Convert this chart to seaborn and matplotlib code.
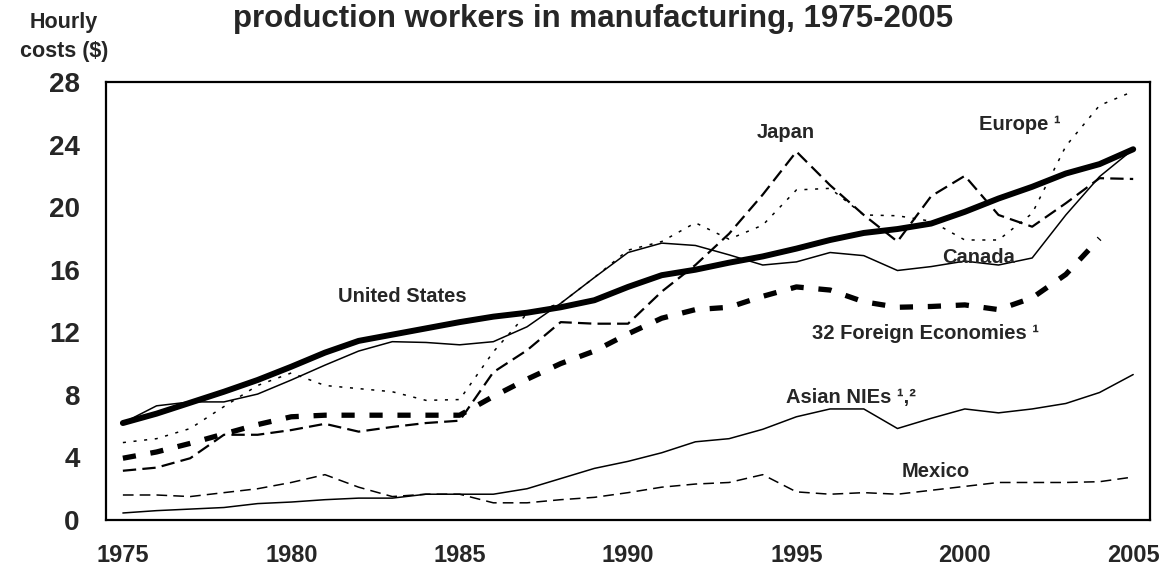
import numpy as np
import seaborn as sns
import matplotlib.pyplot as plt

years = list(range(1975, 2006))

united_states = [6.2, 6.8, 7.5, 8.2, 8.95, 9.8, 10.7, 11.45, 11.85, 12.25, 12.65,
                 13.0, 13.25, 13.6, 14.05, 14.9, 15.65, 16.0, 16.45, 16.85, 17.35,
                 17.9, 18.35, 18.6, 18.95, 19.7, 20.55, 21.3, 22.15, 22.75, 23.7]
canada = [6.2, 7.3, 7.55, 7.55, 8.05, 8.95, 9.9, 10.8, 11.4, 11.35, 11.2,
          11.4, 12.35, 13.85, 15.5, 17.1, 17.7, 17.55, 16.95, 16.3, 16.5,
          17.1, 16.9, 15.95, 16.2, 16.55, 16.3, 16.75, 19.5, 21.95, 23.7]
europe = [4.95, 5.2, 5.85, 7.25, 8.6, 9.4, 8.6, 8.4, 8.2, 7.65, 7.7,
          10.75, 13.2, 13.85, 15.5, 17.25, 17.8, 19.0, 17.95, 18.85, 21.1,
          21.2, 19.5, 19.45, 19.1, 17.9, 17.9, 19.6, 23.9, 26.5, 27.4]
japan = [3.15, 3.35, 3.95, 5.45, 5.45, 5.75, 6.15, 5.65, 5.95, 6.2, 6.35,
         9.45, 10.85, 12.65, 12.55, 12.55, 14.6, 16.3, 18.3, 20.8, 23.55,
         21.4, 19.5, 17.8, 20.7, 22.0, 19.5, 18.75, 20.25, 21.85, 21.8]
foreign_32 = [3.95, 4.35, 4.9, 5.5, 6.1, 6.6, 6.7, 6.7, 6.7, 6.7, 6.7,
              7.9, 9.0, 10.0, 10.8, 11.9, 12.9, 13.45, 13.6, 14.3, 14.9,
              14.7, 13.95, 13.6, 13.65, 13.75, 13.45, 14.2, 15.7, 18.0, np.nan]
asian_nies = [0.45, 0.6, 0.7, 0.8, 1.05, 1.15, 1.3, 1.4, 1.4, 1.65, 1.65,
              1.65, 2.0, 2.65, 3.3, 3.75, 4.3, 5.0, 5.2, 5.8, 6.6,
              7.1, 7.1, 5.85, 6.5, 7.1, 6.85, 7.1, 7.45, 8.15, 9.3]
mexico = [1.6, 1.6, 1.5, 1.75, 2.0, 2.4, 2.9, 2.1, 1.5, 1.65, 1.65,
          1.1, 1.1, 1.3, 1.45, 1.75, 2.1, 2.3, 2.4, 2.9, 1.8,
          1.65, 1.75, 1.65, 1.9, 2.15, 2.4, 2.4, 2.4, 2.45, 2.75]

labels = ["United States", "Japan", "Europe \u00b9", "Canada",
          "32 Foreign Economies \u00b9", "Asian NIEs \u00b9,\u00b2", "Mexico"]
label_pos = [(1981.4, 14.26), (1993.83, 24.8), (2000.41, 25.3), (1999.34, 16.8),
             (1995.46, 11.9), (1994.69, 7.86), (1998.12, 3.07)]

# (values, linewidth, linestyle)
series = [
    (asian_nies, 1.1, "-"),
    (mexico, 1.1, (0, (7, 4))),
    (canada, 1.1, "-"),
    (japan, 1.6, (0, (6, 2.8))),
    (europe, 1.1, (0, (2, 5))),
    (foreign_32, 3.8, (0, (2.5, 2.8))),
    (united_states, 4.3, "-"),
]

sns.set_style("white")
plt.rcParams["font.family"] = ["Liberation Sans", "DejaVu Sans"]
plt.rcParams["font.weight"] = "bold"

fig = plt.figure(figsize=(11.64, 5.65), dpi=100)
ax = fig.add_axes([0.0911, 0.0796, 0.8969, 0.7753])

for vals, lw, ls in series:
    sns.lineplot(x=years, y=vals, ax=ax, color="black", lw=lw,
                 linestyle=ls, solid_capstyle="round", legend=False)

ax.set_xlim(1974.5, 2005.5)
ax.set_ylim(0, 28)
ax.set_xlabel("")
ax.set_ylabel("")

ax.set_xticks(list(range(1975, 2006, 5)))
ax.set_xticks(np.arange(1975.5, 2005, 1), minor=True)
ax.tick_params(axis="x", which="major", length=0, pad=17, labelsize=17)
ax.tick_params(axis="x", which="minor", direction="in", length=6, width=1.5)

ax.set_yticks(list(range(0, 29, 4)))
ax.set_yticks(list(range(2, 28, 4)), minor=True)
ax.tick_params(axis="y", which="both", direction="in", length=7.5, width=1.6)
ax.tick_params(axis="y", which="major", pad=19, labelsize=20)

for sp in ax.spines.values():
    sp.set_visible(True)
    sp.set_color("black")
    sp.set_linewidth(1.6)

for txt, (lx, ly) in zip(labels, label_pos):
    ax.text(lx, ly, txt, ha="left", va="center", fontsize=14.5, fontweight="bold")

fig.text(64 / 1164, 1 - 37 / 565, "Hourly\ncosts ($)", ha="center", va="center",
         fontsize=15.5, fontweight="bold", linespacing=1.45)
fig.text(593 / 1164, 1 - 27 / 565, "production workers in manufacturing, 1975-2005",
         ha="center", va="baseline", fontsize=22.5, fontweight="bold")

fig.savefig("out.png", dpi=100)
